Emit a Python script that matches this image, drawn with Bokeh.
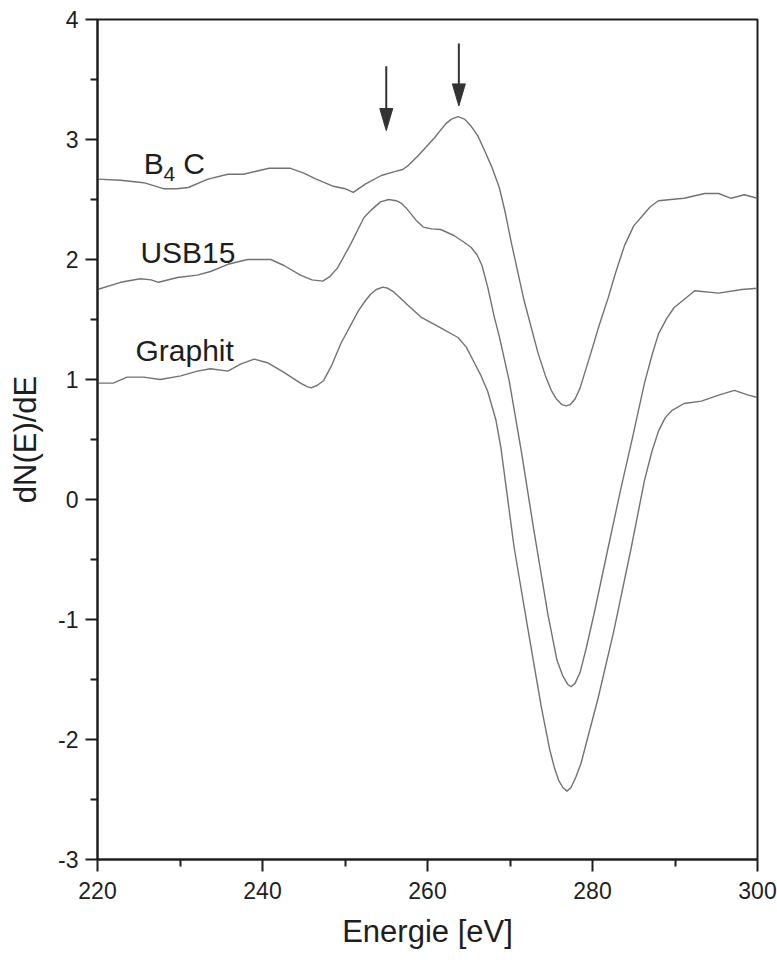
from bokeh.plotting import figure
from bokeh.models import FixedTicker, Label
from bokeh.embed import file_html
from bokeh.resources import INLINE

# Auger spectra (derivative mode), energy in eV and dN(E)/dE with vertical offsets
b4c_ev = [220.0, 222.8, 225.6, 228.0, 229.6, 231.0, 233.4, 235.8, 237.7, 239.5,
          240.8, 243.4, 245.0, 246.5, 248.6, 250.0, 251.0, 252.5, 254.4, 255.9,
          257.0, 257.6, 258.8, 260.0, 260.8, 262.2, 262.9, 263.7, 264.5, 265.3,
          266.1, 266.9, 267.8, 268.7, 269.4, 270.1, 271.7, 273.4, 274.3, 275.0,
          275.6, 276.3, 276.8, 277.3, 277.9, 278.5, 279.8, 280.8, 281.9, 282.8,
          283.9, 285.0, 286.0, 287.0, 288.0, 289.5, 291.1, 293.6, 295.3, 296.8,
          298.4, 300.0]
b4c_val = [2.67, 2.66, 2.64, 2.59, 2.59, 2.60, 2.67, 2.71, 2.71, 2.74,
           2.76, 2.76, 2.72, 2.67, 2.61, 2.59, 2.56, 2.63, 2.70, 2.73,
           2.75, 2.78, 2.86, 2.95, 3.01, 3.13, 3.17, 3.19, 3.17, 3.11,
           3.03, 2.91, 2.77, 2.60, 2.40, 2.16, 1.66, 1.22, 1.03, 0.91,
           0.84, 0.79, 0.78, 0.79, 0.84, 0.93, 1.22, 1.45, 1.68, 1.89,
           2.12, 2.28, 2.36, 2.44, 2.49, 2.50, 2.51, 2.55, 2.55, 2.51,
           2.54, 2.51]

usb15_ev = [220.0, 222.8, 225.2, 226.5, 227.4, 229.7, 232.1, 233.7, 235.8, 238.2,
            241.0, 242.6, 244.6, 246.0, 247.3, 248.2, 249.1, 250.7, 252.3, 253.3,
            254.3, 255.3, 256.2, 256.8, 257.4, 258.0, 258.7, 259.5, 260.5, 261.6,
            263.2, 264.3, 265.3, 266.0, 266.6, 267.3, 268.1, 268.7, 269.9, 271.4,
            272.9, 274.6, 275.7, 276.4, 277.0, 277.4, 277.9, 278.5, 279.2, 280.2,
            281.9, 283.5, 284.7, 286.3, 287.2, 288.0, 289.0, 289.9, 290.8, 292.4,
            295.3, 298.1, 300.0]
usb15_val = [1.75, 1.81, 1.84, 1.83, 1.81, 1.85, 1.87, 1.90, 1.96, 2.00,
             2.00, 1.95, 1.87, 1.83, 1.82, 1.86, 1.93, 2.13, 2.35, 2.42,
             2.48, 2.50, 2.49, 2.47, 2.43, 2.38, 2.32, 2.27, 2.255, 2.25,
             2.20, 2.15, 2.10, 2.04, 1.95, 1.77, 1.52, 1.36, 0.99, 0.39,
             -0.26, -0.96, -1.34, -1.47, -1.54, -1.56, -1.53, -1.44, -1.25, -0.95,
             -0.40, 0.11, 0.47, 0.97, 1.20, 1.38, 1.51, 1.60, 1.65, 1.74,
             1.72, 1.75, 1.76]

graphit_ev = [220.0, 221.9, 223.6, 225.6, 227.6, 230.1, 232.1, 233.7, 235.8, 237.4,
              239.0, 240.6, 242.6, 244.6, 245.4, 245.9, 246.6, 247.4, 248.4, 249.5,
              251.6, 252.4, 253.1, 253.8, 254.6, 255.2, 255.9, 256.7, 257.6, 259.2,
              261.6, 263.7, 264.7, 265.6, 266.5, 267.3, 268.3, 268.9, 270.5, 272.2,
              273.8, 274.8, 275.4, 275.9, 276.4, 276.9, 277.4, 278.0, 278.6, 280.7,
              282.6, 284.7, 286.3, 287.2, 288.0, 288.8, 289.6, 291.1, 293.2, 295.3,
              297.2, 298.9, 300.0]
graphit_val = [0.97, 0.97, 1.02, 1.02, 1.00, 1.03, 1.07, 1.09, 1.07, 1.13,
               1.17, 1.14, 1.06, 0.97, 0.94, 0.93, 0.95, 0.99, 1.12, 1.30,
               1.57, 1.65, 1.71, 1.75, 1.77, 1.76, 1.73, 1.68, 1.62, 1.52,
               1.43, 1.35, 1.27, 1.15, 1.03, 0.90, 0.66, 0.43, -0.40, -1.09,
               -1.73, -2.08, -2.24, -2.34, -2.40, -2.43, -2.40, -2.31, -2.20, -1.65,
               -1.09, -0.40, 0.16, 0.40, 0.57, 0.68, 0.74, 0.80, 0.82, 0.87,
               0.91, 0.87, 0.85]

# Arrows marking the features: energy, tip and tail heights
arrow_ev = [255.0, 263.8]
arrow_tip = [3.075, 3.28]
arrow_tail = [3.61, 3.80]

x_ticks = [220, 240, 260, 280, 300]
x_minor = [230, 250, 270, 290]
y_ticks = [-3, -2, -1, 0, 1, 2, 3, 4]
y_minor = [-2.5, -1.5, -0.5, 0.5, 1.5, 2.5, 3.5]

FONT = "Liberation Sans"
INK = "#1e1e1e"
CURVE = "#727272"

p = figure(width=777, height=960, x_range=(220, 300), y_range=(-3, 4),
           output_backend="svg", toolbar_location=None,
           min_border_left=97, min_border_right=20,
           min_border_top=19, min_border_bottom=101)
p.background_fill_color = "white"
p.border_fill_color = "white"
p.grid.visible = False
p.outline_line_color = INK
p.outline_line_width = 2

p.xaxis.ticker = FixedTicker(ticks=x_ticks, minor_ticks=x_minor)
p.yaxis.ticker = FixedTicker(ticks=y_ticks, minor_ticks=y_minor)
# plain hyphen-minus on the tick labels
p.yaxis.major_label_overrides = {t: str(t) for t in y_ticks}

for ax in (p.xaxis, p.yaxis):
    ax.axis_line_color = INK
    ax.axis_line_width = 2
    ax.major_tick_line_color = INK
    ax.major_tick_line_width = 2
    ax.major_tick_out = 12
    ax.major_tick_in = 0
    ax.minor_tick_line_color = INK
    ax.minor_tick_line_width = 2
    ax.minor_tick_out = 7
    ax.minor_tick_in = 0
    ax.major_label_text_font = FONT
    ax.major_label_text_font_size = "23px"
    ax.major_label_text_color = INK
    ax.axis_label_text_font = FONT
    ax.axis_label_text_font_size = "31px"
    ax.axis_label_text_font_style = "normal"
    ax.axis_label_text_color = INK

p.xaxis.major_label_standoff = 10
p.yaxis.major_label_standoff = 7
p.xaxis.axis_label = "Energie [eV]"
p.xaxis.axis_label_standoff = 12
p.yaxis.axis_label = "dN(E)/dE"
p.yaxis.axis_label_standoff = 12

for ev, val in ((b4c_ev, b4c_val), (usb15_ev, usb15_val), (graphit_ev, graphit_val)):
    p.line(ev, val, line_color=CURVE, line_width=1.4)

# Curve names
def name(x, y, text, size="30px"):
    p.add_layout(Label(x=x, y=y, text=text, text_font=FONT, text_font_size=size,
                       text_color=INK, text_align="left", text_baseline="alphabetic"))

name(225.6, 2.80, "B")
name(228.0, 2.715, "4", size="21px")
name(230.4, 2.80, "C")
name(225.2, 2.057, "USB15")
name(224.6, 1.24, "Graphit")

# Arrows: shaft plus a narrow triangular head
head_half = 6.5 / 8.25
head_len = 22 / 120.0
for ev, tip, tail in zip(arrow_ev, arrow_tip, arrow_tail):
    p.segment(x0=[ev], y0=[tail], x1=[ev], y1=[tip + head_len * 0.5],
              line_color="#333333", line_width=2)
    p.patch([ev - head_half, ev + head_half, ev],
            [tip + head_len, tip + head_len, tip],
            fill_color="#333333", line_color="#333333", line_width=1)

open("out.html", "w").write(file_html(p, INLINE))
